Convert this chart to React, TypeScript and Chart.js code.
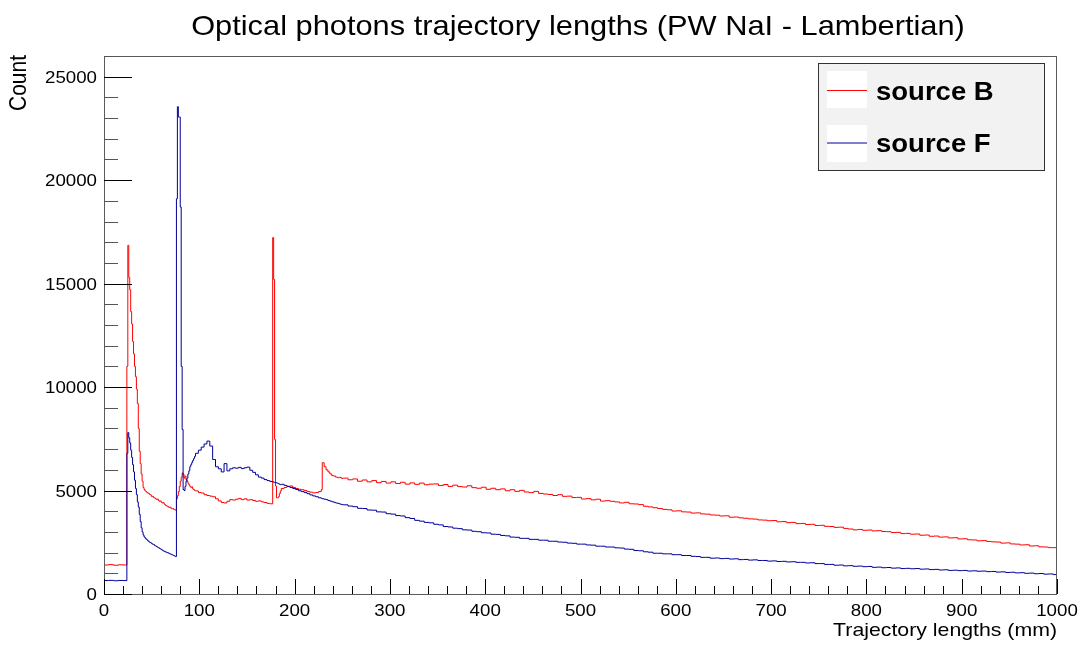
import React, { useEffect, useRef } from 'react';
import { Chart, registerables } from 'chart.js';

Chart.register(...registerables);

// ---------- texts ----------
const chartTitle = 'Optical photons trajectory lengths (PW NaI - Lambertian)';
const xAxisTitle = 'Trajectory lengths (mm)';
const yAxisTitle = 'Count';
const seriesNames = ['source B', 'source F'];
const seriesColors = ['#ff0000', '#000099'];

// ---------- axes ----------
const xMin = 0;
const xMax = 1000;
const yMin = 0;
const yMax = 26000;
const xMajorStep = 100;
const xMinorStep = 20;
const yMajorStep = 5000;
const yMinorStep = 1000;

// ---------- histogram bins (lower edges in mm: [first, last, width]) ----------
const edgeRuns: [number, number, number][] = [
  [0, 20, 5],
  [24, 95, 1],
  [96, 174, 3],
  [177, 185, 1],
  [186, 225, 3],
  [228, 228, 1],
  [229, 249, 2],
  [251, 996, 5],
];

// ---------- counts, source B (red) ----------
const countsSourceB: number[] = [
  // 0..20 (5 mm)
  1400, 1420, 1390, 1410, 1400,
  // 24..95 (1 mm)
  11000, 16850, 15300, 14700, 13650, 13050, 12200, 11600, 11000, 10500,
  9900, 9200, 8000, 6900, 6300, 5800, 5450, 5150, 5050, 4980,
  4950, 4900, 4870, 4850, 4800, 4780, 4700, 4720, 4650, 4640,
  4600, 4570, 4590, 4520, 4480, 4500, 4430, 4400, 4420, 4350,
  4300, 4260, 4250, 4220, 4180, 4200, 4150, 4120, 4130, 4090,
  4070, 4050, 4600, 4750, 4950, 5200, 5450, 5650, 5850, 5780,
  5600, 5700, 5520, 5450, 5350, 5280, 5200, 5150, 5180, 5080,
  5050, 5000,
  // 96..174 (3 mm)
  4980, 4900, 4880, 4800, 4760, 4730, 4700, 4600, 4500, 4420,
  4400, 4480, 4560, 4540, 4580, 4620, 4560, 4600, 4540, 4560,
  4520, 4480, 4500, 4450, 4420, 4380, 4360,
  // 177..185 (1 mm)
  17225, 15200, 7470, 5213, 4650, 4650, 4700, 4850, 4980,
  // 186..225 (3 mm)
  5100, 5150, 5200, 5220, 5150, 5100, 5060, 5040, 5000, 4950,
  4920, 4890, 4900, 4950,
  // 228
  5050,
  // 229..249 (2 mm)
  6344, 6150, 6000, 5900, 5800, 5720, 5700, 5650, 5620, 5640, 5590,
  // 251..996 (5 mm)
  5600, 5520, 5560, 5450, 5510, 5420, 5480, 5380, 5440, 5360,
  5420, 5340, 5400, 5310, 5370, 5300, 5360, 5280, 5310, 5320,
  5240, 5290, 5200, 5260, 5190, 5170, 5230, 5140, 5110, 5160,
  5060, 5110, 5040, 5080, 4990, 5040, 4960, 5010, 4930, 4900,
  4960, 4860, 4830, 4810, 4760, 4800, 4720, 4730, 4660, 4670,
  4590, 4610, 4550, 4580, 4490, 4510, 4480, 4450, 4400, 4430,
  4360, 4350, 4320, 4240, 4210, 4170, 4130, 4090, 4070, 4010,
  4020, 3970, 3960, 3910, 3920, 3870, 3860, 3820, 3810, 3770,
  3780, 3710, 3720, 3680, 3660, 3630, 3620, 3580, 3570, 3540,
  3550, 3490, 3500, 3450, 3460, 3400, 3410, 3360, 3370, 3310,
  3320, 3270, 3260, 3220, 3230, 3170, 3140, 3100, 3120, 3080,
  3090, 3050, 3060, 3020, 3010, 2970, 2980, 2920, 2930, 2890,
  2900, 2840, 2850, 2790, 2800, 2750, 2760, 2710, 2720, 2660,
  2670, 2620, 2610, 2570, 2580, 2540, 2520, 2510, 2460, 2470,
  2420, 2410, 2370, 2380, 2320, 2330, 2280, 2270, 2240, 2240,
];

// ---------- counts, source F (blue) ----------
const countsSourceF: number[] = [
  // 0..20 (5 mm)
  650, 660, 640, 655, 650,
  // 24..95 (1 mm)
  6800, 7800, 7550, 7300, 6950, 6600, 6250, 5900, 5500, 5100,
  4800, 4450, 4200, 3850, 3500, 3200, 3000, 2850, 2760, 2700,
  2650, 2610, 2560, 2530, 2490, 2470, 2430, 2400, 2390, 2340,
  2320, 2290, 2260, 2240, 2200, 2180, 2150, 2110, 2080, 2070,
  2040, 2020, 2000, 1990, 1960, 1940, 1920, 1900, 1880, 1860,
  1830, 1810, 19100, 23550, 23050, 23050, 18700, 11000, 7950, 5050,
  5000, 5200, 5450, 5600, 5800, 5950, 6150, 6250, 6350, 6450,
  6550, 6650,
  // 96..174 (3 mm)
  6800, 6950, 7100, 7250, 7390, 7150, 6500, 6150, 6050, 5900,
  6300, 5950, 6050, 6100, 6080, 6120, 6060, 6100, 6130, 5980,
  5880, 5760, 5650, 5600, 5530, 5480, 5440,
  // 177..185 (1 mm)
  5420, 5400, 5390, 5380, 5370, 5350, 5330, 5300, 5280,
  // 186..225 (3 mm)
  5300, 5250, 5200, 5150, 5100, 5050, 4990, 4950, 4900, 4850,
  4790, 4740, 4700, 4650,
  // 228
  4620,
  // 229..249 (2 mm)
  4600, 4580, 4560, 4520, 4490, 4460, 4430, 4400, 4380, 4350, 4320,
  // 251..996 (5 mm)
  4310, 4250, 4220, 4140, 4130, 4060, 4050, 3970, 3960, 3880,
  3860, 3790, 3770, 3690, 3650, 3560, 3520, 3460, 3440, 3370,
  3340, 3260, 3240, 3180, 3160, 3100, 3090, 3030, 3010, 2960,
  2950, 2890, 2880, 2830, 2810, 2750, 2740, 2690, 2690, 2640,
  2640, 2600, 2600, 2550, 2550, 2510, 2500, 2460, 2450, 2410,
  2410, 2370, 2360, 2310, 2310, 2270, 2270, 2230, 2220, 2170,
  2160, 2100, 2090, 2040, 2020, 1970, 1970, 1940, 1940, 1900,
  1900, 1860, 1860, 1820, 1810, 1770, 1770, 1730, 1740, 1710,
  1720, 1690, 1700, 1660, 1670, 1640, 1650, 1620, 1620, 1590,
  1600, 1570, 1580, 1550, 1560, 1530, 1530, 1500, 1510, 1470,
  1470, 1430, 1430, 1390, 1400, 1360, 1370, 1340, 1350, 1320,
  1330, 1290, 1300, 1270, 1280, 1250, 1260, 1230, 1240, 1220,
  1230, 1200, 1210, 1180, 1190, 1160, 1170, 1140, 1150, 1130,
  1140, 1110, 1120, 1100, 1110, 1080, 1090, 1060, 1070, 1040,
  1050, 1020, 1030, 1000, 1010, 980, 990, 960, 970, 940,
];

function buildEdges(): number[] {
  const edges: number[] = [];
  for (const [a, b, w] of edgeRuns) {
    for (let v = a; v <= b; v += w) edges.push(v);
  }
  return edges;
}

function histPoints(edges: number[], counts: number[]) {
  const n = Math.min(edges.length, counts.length);
  const pts = [] as { x: number; y: number }[];
  for (let i = 0; i < n; i++) pts.push({ x: edges[i], y: counts[i] });
  pts.push({ x: xMax, y: counts[n - 1] });
  return pts;
}

const FONT = "'Liberation Sans', Arial, Helvetica, sans-serif";

function drawText(
  ctx: CanvasRenderingContext2D,
  text: string,
  x: number,
  y: number,
  font: string,
  sx: number,
  align: CanvasTextAlign,
  baseline: CanvasTextBaseline,
) {
  ctx.save();
  ctx.translate(x, y);
  ctx.scale(sx, 1);
  ctx.font = font;
  ctx.textAlign = align;
  ctx.textBaseline = baseline;
  ctx.fillStyle = '#000';
  ctx.fillText(text, 0, 0);
  ctx.restore();
}

const rootStylePlugin = {
  id: 'rootStyle',
  beforeDraw(chart: any) {
    const ctx = chart.ctx as CanvasRenderingContext2D;
    ctx.save();
    ctx.fillStyle = '#ffffff';
    ctx.fillRect(0, 0, chart.width, chart.height);
    ctx.restore();
  },
  afterDraw(chart: any) {
    const ctx = chart.ctx as CanvasRenderingContext2D;
    const { left, right, top, bottom } = chart.chartArea;
    const xs = chart.scales.x;
    const ys = chart.scales.y;
    ctx.save();

    // frame
    ctx.strokeStyle = '#5a5a5a';
    ctx.lineWidth = 1;
    ctx.strokeRect(left + 0.5, top + 0.5, right - left - 1, bottom - top);

    // x ticks (inside, from bottom)
    for (let v = xMin; v <= xMax; v += xMinorStep) {
      const major = v % xMajorStep === 0;
      const px = Math.round(xs.getPixelForValue(v)) + 0.5;
      ctx.strokeStyle = '#000';
      ctx.beginPath();
      ctx.moveTo(px, bottom);
      ctx.lineTo(px, bottom - (major ? 15 : 8));
      ctx.stroke();
    }
    // y ticks (inside, from left)
    for (let v = yMin; v <= yMax; v += yMinorStep) {
      const major = v % yMajorStep === 0;
      const py = Math.round(ys.getPixelForValue(v)) + 0.5;
      ctx.strokeStyle = major ? '#000' : '#555';
      ctx.beginPath();
      ctx.moveTo(left, py);
      ctx.lineTo(left + (major ? 28 : 14), py);
      ctx.stroke();
    }

    const tickFont = `17px ${FONT}`;
    // x labels
    for (let v = xMin; v <= xMax; v += xMajorStep) {
      const px = xs.getPixelForValue(v);
      drawText(ctx, String(v), px, 616, tickFont, 1.1, 'center', 'alphabetic');
    }
    // y labels
    for (let v = yMin; v <= yMax; v += yMajorStep) {
      const py = ys.getPixelForValue(v);
      drawText(ctx, String(v), 97, py + 6, tickFont, 1.1, 'right', 'alphabetic');
    }

    // title
    drawText(ctx, chartTitle, 578, 35, `28px ${FONT}`, 1.1, 'center', 'alphabetic');
    // x title
    drawText(ctx, xAxisTitle, right, 636, `19px ${FONT}`, 1.12, 'right', 'alphabetic');
    // y title (rotated)
    ctx.save();
    ctx.translate(26, 55);
    ctx.rotate(-Math.PI / 2);
    ctx.scale(1, 1.1);
    ctx.font = `21px ${FONT}`;
    ctx.textAlign = 'right';
    ctx.textBaseline = 'alphabetic';
    ctx.fillStyle = '#000';
    ctx.fillText(yAxisTitle, 0, 0);
    ctx.restore();

    // legend
    ctx.fillStyle = '#f2f2f2';
    ctx.fillRect(818, 63, 227, 108);
    ctx.strokeStyle = '#333';
    ctx.lineWidth = 1;
    ctx.strokeRect(818.5, 63.5, 226, 107);
    const entryTop = [71, 125];
    const entryLine = [90.5, 143];
    const entryBase = [100, 152];
    for (let i = 0; i < seriesNames.length; i++) {
      ctx.fillStyle = '#ffffff';
      ctx.fillRect(827, entryTop[i], 40, 37);
      ctx.strokeStyle = seriesColors[i];
      ctx.lineWidth = 1;
      ctx.beginPath();
      ctx.moveTo(827, entryLine[i]);
      ctx.lineTo(867, entryLine[i]);
      ctx.stroke();
      drawText(ctx, seriesNames[i], 876, entryBase[i], `bold 25px ${FONT}`, 1.1, 'left', 'alphabetic');
    }

    ctx.restore();
  },
};

export default function App() {
  const canvasRef = useRef<HTMLCanvasElement | null>(null);

  useEffect(() => {
    document.body.style.margin = '0';
    const canvas = canvasRef.current;
    if (!canvas) return;
    const edges = buildEdges();
    const chart = new Chart(canvas, {
      type: 'line',
      data: {
        datasets: [
          {
            label: seriesNames[0],
            data: histPoints(edges, countsSourceB),
            borderColor: seriesColors[0],
            borderWidth: 1,
            pointRadius: 0,
            stepped: true,
            fill: false,
            tension: 0,
            order: 1,
          },
          {
            label: seriesNames[1],
            data: histPoints(edges, countsSourceF),
            borderColor: seriesColors[1],
            borderWidth: 1,
            pointRadius: 0,
            stepped: true,
            fill: false,
            tension: 0,
            order: 0,
          },
        ],
      },
      options: {
        responsive: false,
        animation: false,
        devicePixelRatio: 1,
        events: [],
        layout: { padding: { top: 56, right: 29, left: 0, bottom: 0 } },
        plugins: {
          legend: { display: false },
          title: { display: false },
          tooltip: { enabled: false },
        },
        scales: {
          x: {
            type: 'linear',
            min: xMin,
            max: xMax,
            ticks: { stepSize: xMajorStep, display: false },
            grid: { display: false },
            border: { display: false },
            afterFit: (s: any) => {
              s.height = 54;
            },
          },
          y: {
            type: 'linear',
            min: yMin,
            max: yMax,
            ticks: { stepSize: yMajorStep, display: false },
            grid: { display: false },
            border: { display: false },
            afterFit: (s: any) => {
              s.width = 104;
            },
          },
        },
      },
      plugins: [rootStylePlugin],
    } as any);
    return () => chart.destroy();
  }, []);

  return (
    <div style={{ position: 'fixed', left: 0, top: 0, width: 1086, height: 648, background: '#fff' }}>
      <canvas ref={canvasRef} width={1086} height={648} style={{ display: 'block', width: 1086, height: 648 }} />
    </div>
  );
}
